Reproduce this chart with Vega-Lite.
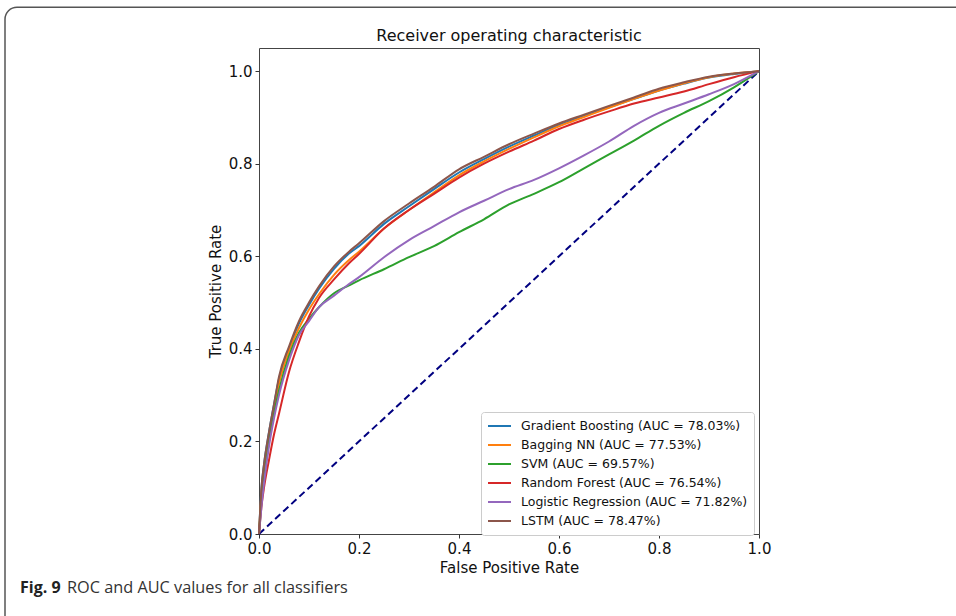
{
  "$schema": "https://vega.github.io/schema/vega-lite/v6.json",
  "width": 500,
  "height": 486,
  "autosize": {"type": "none"},
  "padding": {"left": 259, "top": 48, "right": 197, "bottom": 82},
  "background": "white",
  "config": {
    "view": {"stroke": "#444", "strokeWidth": 1},
    "font": "DejaVu Sans",
    "axis": {"domain": false, "grid": false, "tickColor": "#333", "tickSize": 4, "labelFontSize": 15, "labelColor": "#111", "titleFontSize": 15, "titleFontWeight": "normal", "titleColor": "#111", "labelPadding": 3, "labelFont": "DejaVu Sans", "titleFont": "DejaVu Sans", "labelFlush": false, "labelOverlap": false}
  },
  "datasets": {
    "models": [
      {"k": "GB", "label": "Gradient Boosting (AUC = 78.03%)"},
      {"k": "BNN", "label": "Bagging NN (AUC = 77.53%)"},
      {"k": "SVM", "label": "SVM (AUC = 69.57%)"},
      {"k": "RF", "label": "Random Forest (AUC = 76.54%)"},
      {"k": "LR", "label": "Logistic Regression (AUC = 71.82%)"},
      {"k": "LSTM", "label": "LSTM (AUC = 78.47%)"}
    ],
    "roc": [
      {"k":"GB","fpr":0,"tpr":0},{"k":"GB","fpr":0.005,"tpr":0.10},{"k":"GB","fpr":0.01,"tpr":0.15},{"k":"GB","fpr":0.02,"tpr":0.22},{"k":"GB","fpr":0.03,"tpr":0.28},{"k":"GB","fpr":0.04,"tpr":0.335},{"k":"GB","fpr":0.06,"tpr":0.40},{"k":"GB","fpr":0.08,"tpr":0.455},{"k":"GB","fpr":0.1,"tpr":0.495},{"k":"GB","fpr":0.12,"tpr":0.53},{"k":"GB","fpr":0.15,"tpr":0.573},{"k":"GB","fpr":0.18,"tpr":0.606},{"k":"GB","fpr":0.2,"tpr":0.622},{"k":"GB","fpr":0.25,"tpr":0.67},{"k":"GB","fpr":0.3,"tpr":0.708},{"k":"GB","fpr":0.35,"tpr":0.745},{"k":"GB","fpr":0.4,"tpr":0.781},{"k":"GB","fpr":0.45,"tpr":0.81},{"k":"GB","fpr":0.5,"tpr":0.837},{"k":"GB","fpr":0.55,"tpr":0.861},{"k":"GB","fpr":0.6,"tpr":0.884},{"k":"GB","fpr":0.65,"tpr":0.903},{"k":"GB","fpr":0.7,"tpr":0.922},{"k":"GB","fpr":0.75,"tpr":0.94},{"k":"GB","fpr":0.8,"tpr":0.958},{"k":"GB","fpr":0.85,"tpr":0.973},{"k":"GB","fpr":0.9,"tpr":0.986},{"k":"GB","fpr":0.95,"tpr":0.994},{"k":"GB","fpr":1,"tpr":1},
      {"k":"BNN","fpr":0,"tpr":0},{"k":"BNN","fpr":0.005,"tpr":0.09},{"k":"BNN","fpr":0.01,"tpr":0.14},{"k":"BNN","fpr":0.02,"tpr":0.21},{"k":"BNN","fpr":0.03,"tpr":0.27},{"k":"BNN","fpr":0.04,"tpr":0.325},{"k":"BNN","fpr":0.06,"tpr":0.395},{"k":"BNN","fpr":0.08,"tpr":0.445},{"k":"BNN","fpr":0.1,"tpr":0.485},{"k":"BNN","fpr":0.12,"tpr":0.518},{"k":"BNN","fpr":0.15,"tpr":0.56},{"k":"BNN","fpr":0.18,"tpr":0.592},{"k":"BNN","fpr":0.2,"tpr":0.61},{"k":"BNN","fpr":0.25,"tpr":0.66},{"k":"BNN","fpr":0.3,"tpr":0.70},{"k":"BNN","fpr":0.35,"tpr":0.738},{"k":"BNN","fpr":0.4,"tpr":0.775},{"k":"BNN","fpr":0.45,"tpr":0.805},{"k":"BNN","fpr":0.5,"tpr":0.832},{"k":"BNN","fpr":0.55,"tpr":0.857},{"k":"BNN","fpr":0.6,"tpr":0.881},{"k":"BNN","fpr":0.65,"tpr":0.901},{"k":"BNN","fpr":0.7,"tpr":0.921},{"k":"BNN","fpr":0.75,"tpr":0.94},{"k":"BNN","fpr":0.8,"tpr":0.958},{"k":"BNN","fpr":0.85,"tpr":0.974},{"k":"BNN","fpr":0.9,"tpr":0.987},{"k":"BNN","fpr":0.95,"tpr":0.995},{"k":"BNN","fpr":1,"tpr":1},
      {"k":"SVM","fpr":0,"tpr":0},{"k":"SVM","fpr":0.005,"tpr":0.07},{"k":"SVM","fpr":0.01,"tpr":0.12},{"k":"SVM","fpr":0.02,"tpr":0.20},{"k":"SVM","fpr":0.03,"tpr":0.26},{"k":"SVM","fpr":0.04,"tpr":0.31},{"k":"SVM","fpr":0.06,"tpr":0.385},{"k":"SVM","fpr":0.08,"tpr":0.435},{"k":"SVM","fpr":0.1,"tpr":0.465},{"k":"SVM","fpr":0.12,"tpr":0.49},{"k":"SVM","fpr":0.15,"tpr":0.52},{"k":"SVM","fpr":0.18,"tpr":0.537},{"k":"SVM","fpr":0.2,"tpr":0.548},{"k":"SVM","fpr":0.25,"tpr":0.572},{"k":"SVM","fpr":0.3,"tpr":0.598},{"k":"SVM","fpr":0.35,"tpr":0.622},{"k":"SVM","fpr":0.4,"tpr":0.652},{"k":"SVM","fpr":0.45,"tpr":0.68},{"k":"SVM","fpr":0.5,"tpr":0.712},{"k":"SVM","fpr":0.55,"tpr":0.735},{"k":"SVM","fpr":0.6,"tpr":0.76},{"k":"SVM","fpr":0.65,"tpr":0.79},{"k":"SVM","fpr":0.7,"tpr":0.82},{"k":"SVM","fpr":0.75,"tpr":0.85},{"k":"SVM","fpr":0.8,"tpr":0.882},{"k":"SVM","fpr":0.85,"tpr":0.91},{"k":"SVM","fpr":0.9,"tpr":0.935},{"k":"SVM","fpr":0.95,"tpr":0.965},{"k":"SVM","fpr":1,"tpr":1},
      {"k":"RF","fpr":0,"tpr":0},{"k":"RF","fpr":0.005,"tpr":0.06},{"k":"RF","fpr":0.01,"tpr":0.10},{"k":"RF","fpr":0.02,"tpr":0.16},{"k":"RF","fpr":0.03,"tpr":0.215},{"k":"RF","fpr":0.04,"tpr":0.26},{"k":"RF","fpr":0.06,"tpr":0.35},{"k":"RF","fpr":0.08,"tpr":0.415},{"k":"RF","fpr":0.1,"tpr":0.47},{"k":"RF","fpr":0.12,"tpr":0.51},{"k":"RF","fpr":0.15,"tpr":0.55},{"k":"RF","fpr":0.18,"tpr":0.585},{"k":"RF","fpr":0.2,"tpr":0.605},{"k":"RF","fpr":0.25,"tpr":0.66},{"k":"RF","fpr":0.3,"tpr":0.70},{"k":"RF","fpr":0.35,"tpr":0.735},{"k":"RF","fpr":0.4,"tpr":0.77},{"k":"RF","fpr":0.45,"tpr":0.80},{"k":"RF","fpr":0.5,"tpr":0.826},{"k":"RF","fpr":0.55,"tpr":0.85},{"k":"RF","fpr":0.6,"tpr":0.875},{"k":"RF","fpr":0.65,"tpr":0.895},{"k":"RF","fpr":0.7,"tpr":0.913},{"k":"RF","fpr":0.75,"tpr":0.93},{"k":"RF","fpr":0.8,"tpr":0.943},{"k":"RF","fpr":0.85,"tpr":0.956},{"k":"RF","fpr":0.9,"tpr":0.972},{"k":"RF","fpr":0.95,"tpr":0.987},{"k":"RF","fpr":1,"tpr":1},
      {"k":"LR","fpr":0,"tpr":0},{"k":"LR","fpr":0.005,"tpr":0.06},{"k":"LR","fpr":0.01,"tpr":0.11},{"k":"LR","fpr":0.02,"tpr":0.19},{"k":"LR","fpr":0.03,"tpr":0.25},{"k":"LR","fpr":0.04,"tpr":0.30},{"k":"LR","fpr":0.06,"tpr":0.375},{"k":"LR","fpr":0.08,"tpr":0.43},{"k":"LR","fpr":0.1,"tpr":0.46},{"k":"LR","fpr":0.12,"tpr":0.49},{"k":"LR","fpr":0.15,"tpr":0.515},{"k":"LR","fpr":0.18,"tpr":0.54},{"k":"LR","fpr":0.2,"tpr":0.555},{"k":"LR","fpr":0.25,"tpr":0.598},{"k":"LR","fpr":0.3,"tpr":0.635},{"k":"LR","fpr":0.35,"tpr":0.665},{"k":"LR","fpr":0.4,"tpr":0.695},{"k":"LR","fpr":0.45,"tpr":0.72},{"k":"LR","fpr":0.5,"tpr":0.745},{"k":"LR","fpr":0.55,"tpr":0.765},{"k":"LR","fpr":0.6,"tpr":0.79},{"k":"LR","fpr":0.65,"tpr":0.818},{"k":"LR","fpr":0.7,"tpr":0.848},{"k":"LR","fpr":0.75,"tpr":0.882},{"k":"LR","fpr":0.8,"tpr":0.91},{"k":"LR","fpr":0.85,"tpr":0.93},{"k":"LR","fpr":0.9,"tpr":0.95},{"k":"LR","fpr":0.95,"tpr":0.972},{"k":"LR","fpr":1,"tpr":1},
      {"k":"LSTM","fpr":0,"tpr":0},{"k":"LSTM","fpr":0.005,"tpr":0.10},{"k":"LSTM","fpr":0.01,"tpr":0.15},{"k":"LSTM","fpr":0.02,"tpr":0.22},{"k":"LSTM","fpr":0.03,"tpr":0.28},{"k":"LSTM","fpr":0.04,"tpr":0.34},{"k":"LSTM","fpr":0.06,"tpr":0.405},{"k":"LSTM","fpr":0.08,"tpr":0.46},{"k":"LSTM","fpr":0.1,"tpr":0.50},{"k":"LSTM","fpr":0.12,"tpr":0.535},{"k":"LSTM","fpr":0.15,"tpr":0.578},{"k":"LSTM","fpr":0.18,"tpr":0.61},{"k":"LSTM","fpr":0.2,"tpr":0.628},{"k":"LSTM","fpr":0.25,"tpr":0.676},{"k":"LSTM","fpr":0.3,"tpr":0.714},{"k":"LSTM","fpr":0.35,"tpr":0.75},{"k":"LSTM","fpr":0.4,"tpr":0.788},{"k":"LSTM","fpr":0.45,"tpr":0.815},{"k":"LSTM","fpr":0.5,"tpr":0.842},{"k":"LSTM","fpr":0.55,"tpr":0.865},{"k":"LSTM","fpr":0.6,"tpr":0.887},{"k":"LSTM","fpr":0.65,"tpr":0.906},{"k":"LSTM","fpr":0.7,"tpr":0.925},{"k":"LSTM","fpr":0.75,"tpr":0.943},{"k":"LSTM","fpr":0.8,"tpr":0.962},{"k":"LSTM","fpr":0.85,"tpr":0.976},{"k":"LSTM","fpr":0.9,"tpr":0.988},{"k":"LSTM","fpr":0.95,"tpr":0.995},{"k":"LSTM","fpr":1,"tpr":1}
    ],
    "diag": [{"fpr": 0, "tpr": 0}, {"fpr": 1, "tpr": 1}]
  },
  "layer": [
    {
      "data": {"values": [{}]},
      "mark": {"type": "rect", "fill": "white", "fillOpacity": 0, "stroke": "#555", "strokeWidth": 1.5, "cornerRadius": 12},
      "encoding": {
        "x": {"datum": -0.508, "type": "quantitative", "scale": {"domain": [0, 1]}},
        "x2": {"datum": 1.44},
        "y": {"datum": 1.138, "type": "quantitative", "scale": {"domain": [0, 1.05]}},
        "y2": {"datum": -0.23}
      }
    },
    {
      "data": {"values": [{}]},
      "mark": {"type": "text", "align": "center", "baseline": "middle", "font": "DejaVu Sans", "fontSize": 16, "color": "#111"},
      "encoding": {
        "x": {"datum": 0.5, "type": "quantitative"},
        "y": {"datum": 1.076, "type": "quantitative"},
        "text": {"value": "Receiver operating characteristic"}
      }
    },
    {
      "data": {"name": "diag"},
      "mark": {"type": "line", "color": "#000080", "strokeWidth": 2, "strokeDash": [7, 4]},
      "encoding": {
        "x": {"field": "fpr", "type": "quantitative"},
        "y": {"field": "tpr", "type": "quantitative"}
      }
    },
    {
      "data": {"name": "roc"},
      "transform": [{"lookup": "k", "from": {"data": {"name": "models"}, "key": "k", "fields": ["label"]}}],
      "mark": {"type": "line", "strokeWidth": 2, "interpolate": "monotone"},
      "encoding": {
        "x": {"field": "fpr", "type": "quantitative", "scale": {"domain": [0, 1], "nice": false}, "axis": {"title": "False Positive Rate", "values": [0, 0.2, 0.4, 0.6, 0.8, 1], "format": ".1f", "titlePadding": 4}},
        "y": {"field": "tpr", "type": "quantitative", "scale": {"domain": [0, 1.05], "nice": false}, "axis": {"title": "True Positive Rate", "values": [0, 0.2, 0.4, 0.6, 0.8, 1], "format": ".1f", "titlePadding": 5}},
        "color": {
          "field": "label", "type": "nominal",
          "scale": {
            "domain": ["Gradient Boosting (AUC = 78.03%)", "Bagging NN (AUC = 77.53%)", "SVM (AUC = 69.57%)", "Random Forest (AUC = 76.54%)", "Logistic Regression (AUC = 71.82%)", "LSTM (AUC = 78.47%)"],
            "range": ["#1f77b4", "#ff7f0e", "#2ca02c", "#d62728", "#9467bd", "#8c564b"]
          },
          "legend": {"title": null, "orient": "none", "legendX": 222, "legendY": 364, "symbolType": "stroke", "symbolSize": 529, "symbolStrokeWidth": 2, "clipHeight": 16, "labelFontSize": 12.5, "labelFont": "DejaVu Sans", "labelColor": "#111", "labelLimit": 400, "labelOffset": 9, "fillColor": "white", "strokeColor": "#ccc", "cornerRadius": 3, "padding": 6, "rowPadding": 3}
        }
      }
    },
    {
      "data": {"values": [{}]},
      "mark": {"type": "text", "align": "left", "baseline": "middle", "font": "Open Sans", "fontSize": 16, "fontWeight": "bold", "color": "#222"},
      "encoding": {
        "x": {"datum": -0.478, "type": "quantitative"},
        "y": {"datum": -0.117, "type": "quantitative"},
        "text": {"value": "Fig. 9"}
      }
    },
    {
      "data": {"values": [{}]},
      "mark": {"type": "text", "align": "left", "baseline": "middle", "font": "Open Sans", "fontSize": 16.3, "color": "#333"},
      "encoding": {
        "x": {"datum": -0.384, "type": "quantitative"},
        "y": {"datum": -0.117, "type": "quantitative"},
        "text": {"value": "ROC and AUC values for all classifiers"}
      }
    }
  ]
}
